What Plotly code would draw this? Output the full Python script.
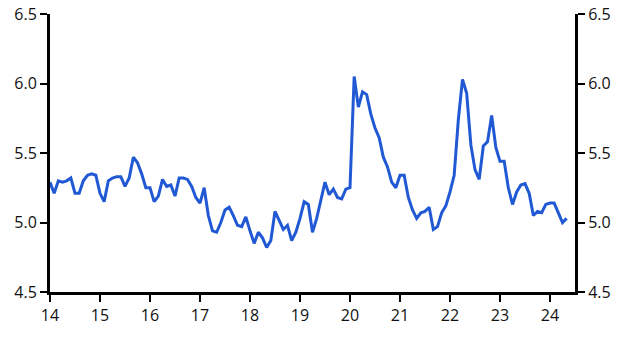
import plotly.graph_objects as go

start_year = 14
values = [
    # 2014
    5.29, 5.21, 5.30, 5.29, 5.30, 5.32, 5.21, 5.21, 5.30, 5.34, 5.35, 5.34,
    # 2015
    5.21, 5.15, 5.30, 5.32, 5.33, 5.33, 5.26, 5.32, 5.47, 5.43, 5.35, 5.25,
    # 2016
    5.25, 5.15, 5.19, 5.31, 5.26, 5.27, 5.19, 5.32, 5.32, 5.31, 5.26, 5.18,
    # 2017
    5.14, 5.25, 5.05, 4.94, 4.93, 5.00, 5.09, 5.11, 5.05, 4.98, 4.97, 5.04,
    # 2018
    4.94, 4.85, 4.93, 4.89, 4.82, 4.87, 5.08, 5.01, 4.95, 4.98, 4.87, 4.93,
    # 2019
    5.03, 5.15, 5.13, 4.93, 5.03, 5.16, 5.29, 5.20, 5.24, 5.18, 5.17, 5.24,
    # 2020
    5.25, 6.05, 5.83, 5.94, 5.92, 5.78, 5.68, 5.61, 5.47, 5.40, 5.29, 5.25,
    # 2021
    5.34, 5.34, 5.18, 5.09, 5.03, 5.07, 5.08, 5.11, 4.95, 4.97, 5.07, 5.12,
    # 2022
    5.22, 5.34, 5.74, 6.03, 5.93, 5.56, 5.38, 5.31, 5.55, 5.58, 5.77, 5.54,
    # 2023
    5.44, 5.44, 5.25, 5.13, 5.22, 5.27, 5.28, 5.21, 5.05, 5.08, 5.07, 5.13,
    # 2024
    5.14, 5.14, 5.07, 5.00, 5.03,
]
x_vals = [start_year + i / 12 for i in range(len(values))]

x_ticks = list(range(14, 25))
x_tick_labels = [str(t) for t in x_ticks]
y_ticks = [4.5, 5.0, 5.5, 6.0, 6.5]
y_tick_labels = ["4.5", "5.0", "5.5", "6.0", "6.5"]

line_color = "#2159d4"
font = dict(family="Open Sans, Noto Sans, sans-serif", size=16, color="#111111")

fig = go.Figure()
fig.add_trace(go.Scatter(x=x_vals, y=values, mode="lines",
                         line=dict(color=line_color, width=3), showlegend=False))
fig.add_trace(go.Scatter(x=x_vals, y=values, mode="lines", yaxis="y2",
                         line=dict(color="rgba(0,0,0,0)", width=0),
                         hoverinfo="skip", showlegend=False))

axis_common = dict(showgrid=False, zeroline=False, showline=True,
                   linecolor="black", linewidth=3, ticks="outside",
                   ticklen=7, tickwidth=2, tickcolor="black", tickfont=font,
                   automargin=False)

fig.update_layout(
    width=626, height=338,
    margin=dict(l=50, r=51, t=14, b=46),
    paper_bgcolor="white", plot_bgcolor="white",
    xaxis=dict(range=[14, 24.5], tickvals=x_ticks, ticktext=x_tick_labels,
               **axis_common),
    yaxis=dict(range=[4.5, 6.5], tickvals=y_ticks, ticktext=y_tick_labels,
               side="left", **axis_common),
    yaxis2=dict(range=[4.5, 6.5], tickvals=y_ticks, ticktext=y_tick_labels,
                side="right", overlaying="y", **axis_common),
)

fig.write_html("out.html")
